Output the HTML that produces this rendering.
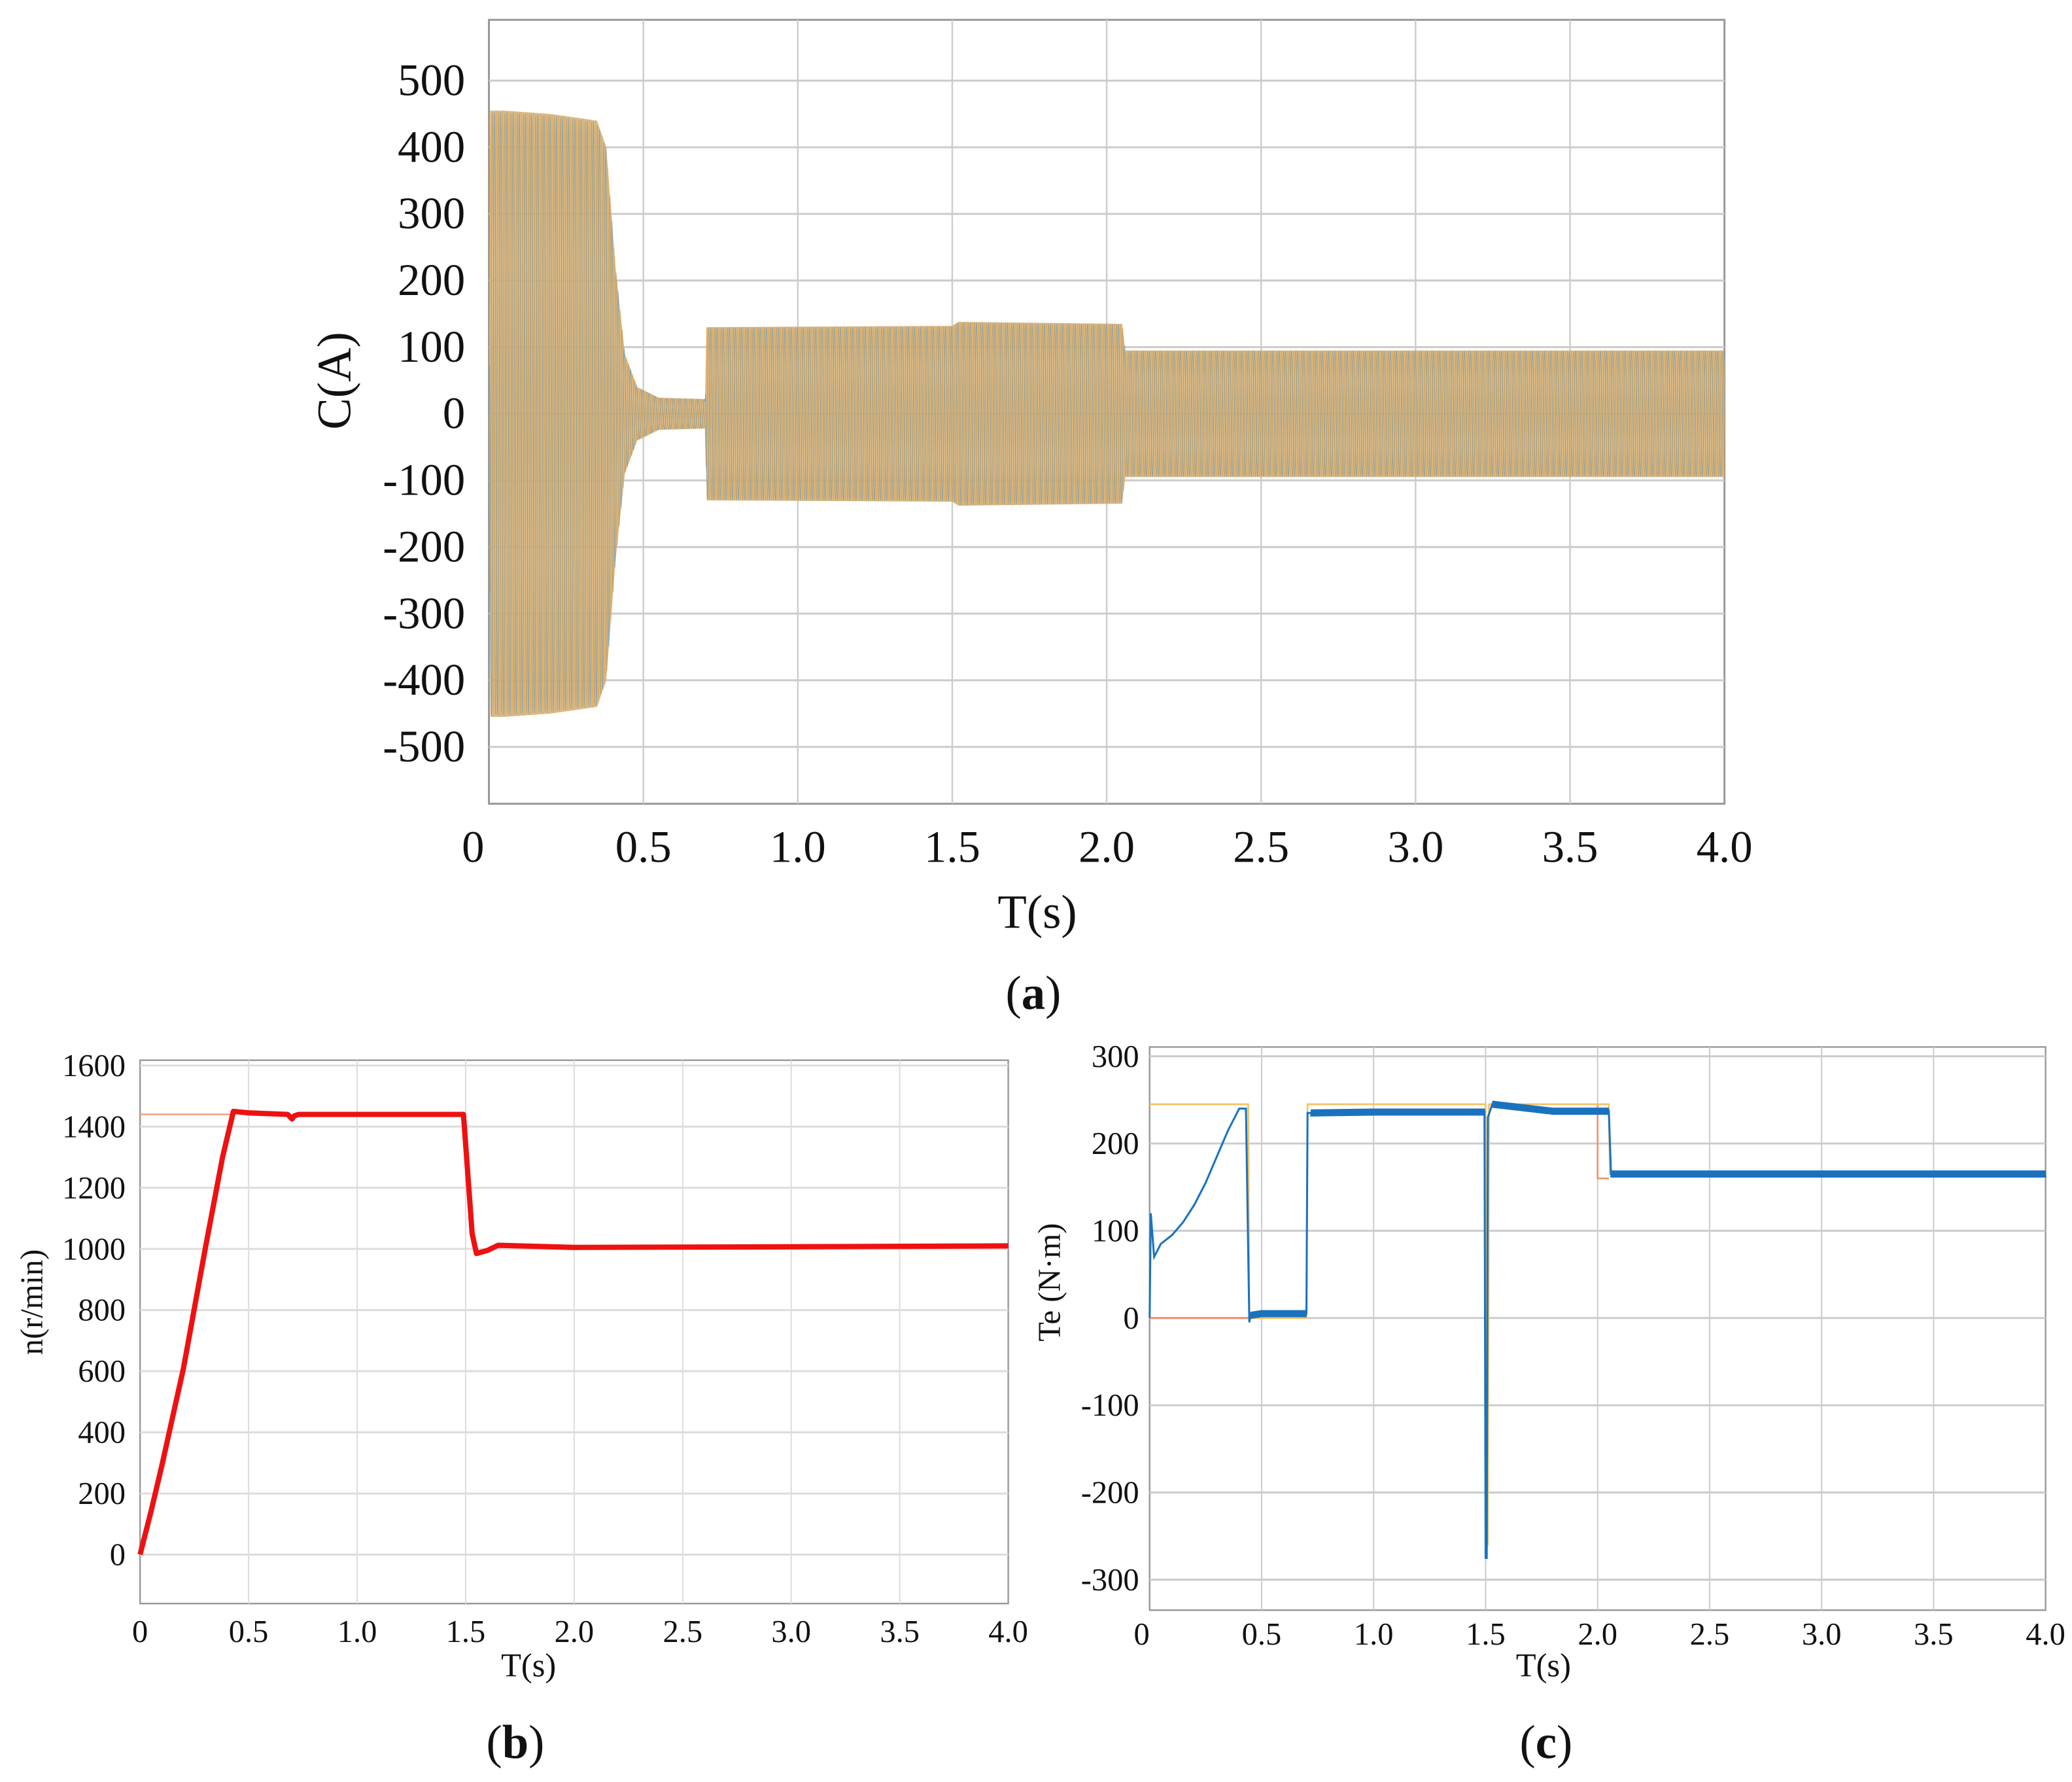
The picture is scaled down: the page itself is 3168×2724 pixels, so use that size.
<!DOCTYPE html>
<html><head><meta charset="utf-8"><style>
html,body{margin:0;padding:0;background:#fff;}
svg{display:block;}
text{font-family:"Liberation Serif",serif;fill:#111;}
</style></head><body>
<svg id="fig" xmlns="http://www.w3.org/2000/svg" width="3168" height="2724" viewBox="0 0 1568 1348" preserveAspectRatio="none">
<g id="ga"></g>
<g id="gb"></g>
<g id="gc"></g>
</svg>
<script>
// ---- Chart (a) current envelope data ----
const aTimes = [0, 0.005, 0.05, 0.2, 0.35, 0.38, 0.41, 0.44, 0.48, 0.55, 0.7, 0.705, 1.5, 1.52, 2.05, 2.06, 4.0];
const aAmps  = [0, 455, 455, 450, 440, 400, 220, 90, 40, 24, 22, 130, 132, 138, 135, 95, 95];
const aYTicks = [500, 400, 300, 200, 100, 0, -100, -200, -300, -400, -500];
const aXTicks = [0, 0.5, 1.0, 1.5, 2.0, 2.5, 3.0, 3.5, 4.0];
const aXLabels = ["0","0.5","1.0","1.5","2.0","2.5","3.0","3.5","4.0"];
// ---- Chart (b) speed ----
const bTimes = [0, 0.05, 0.1, 0.2, 0.3, 0.38, 0.43, 0.5, 0.68, 0.7, 0.71, 0.73, 1.0, 1.49, 1.53, 1.55, 1.6, 1.65, 2.0, 3.0, 4.0];
const bSpeed = [0, 140, 290, 610, 1000, 1300, 1450, 1445, 1440, 1425, 1435, 1440, 1440, 1440, 1050, 985, 995, 1012, 1005, 1007, 1010];
const bRefTimes = [0, 0.43];
const bRefSpeed = [1440, 1440];
const bYTicks = [1600, 1400, 1200, 1000, 800, 600, 400, 200, 0];
const bXTicks = [0, 0.5, 1.0, 1.5, 2.0, 2.5, 3.0, 3.5, 4.0];
const bXLabels = ["0","0.5","1.0","1.5","2.0","2.5","3.0","3.5","4.0"];
// ---- Chart (c) torque ----
const cRefTimes = [0, 0.44, 0.445, 0.7, 0.705, 1.5, 1.505, 1.51, 1.515, 2.05, 2.055, 4.0];
const cRefVals  = [245, 245, 0, 0, 245, 245, -260, -260, 245, 245, 165, 165];
const cLoad1Times = [0, 0.44];
const cLoad1Vals  = [0, 0];
const cLoad2Times = [2.0, 2.0, 2.05];
const cLoad2Vals  = [245, 160, 160];
const cTeTimes = [0, 0.005, 0.02, 0.05, 0.1, 0.15, 0.2, 0.25, 0.3, 0.35, 0.4, 0.43, 0.445, 0.45, 0.5, 0.7, 0.705, 0.72, 1.0, 1.495, 1.5, 1.505, 1.51, 1.53, 1.8, 2.05, 2.06, 2.1, 3.0, 4.0];
const cTeVals  = [0, 120, 70, 85, 95, 110, 130, 155, 185, 215, 240, 240, -5, 3, 5, 5, 235, 235, 236, 236, -275, -275, 230, 245, 237, 237, 165, 165, 165, 165];
const cYTicks = [300, 200, 100, 0, -100, -200, -300];
const cXTicks = [0, 0.5, 1.0, 1.5, 2.0, 2.5, 3.0, 3.5, 4.0];
const cXLabels = ["0","0.5","1.0","1.5","2.0","2.5","3.0","3.5","4.0"];

const NS = "http://www.w3.org/2000/svg";
function mk(parent, tag, attrs, txt){
  const e = document.createElementNS(NS, tag);
  for (const k in attrs) e.setAttribute(k, attrs[k]);
  if (txt !== undefined) e.textContent = txt;
  parent.appendChild(e); return e;
}
function lin(d0,d1,r0,r1){ return v => r0 + (v-d0)/(d1-d0)*(r1-r0); }
function interp(ts, vs, t){
  if (t <= ts[0]) return vs[0];
  for (let i=1;i<ts.length;i++){ if (t<=ts[i]){ const f=(t-ts[i-1])/((ts[i]-ts[i-1])||1); return vs[i-1]+f*(vs[i]-vs[i-1]); } }
  return vs[vs.length-1];
}
function pts(ts, vs, X, Y){ return ts.map((t,i)=>X(t).toFixed(2)+","+Y(vs[i]).toFixed(2)).join(" "); }

// ===== Chart A =====
(function(){
  const g = document.getElementById('ga');
  const L=370,R=1305,T=15,B=608;
  const X = lin(0,4,L,R), Y = lin(0,500,313,61);
  let r = mk(g,'rect',{x:L,y:T,width:R-L,height:B-T,fill:'#fff',stroke:'#999','stroke-width':1.5});
  
  
  aYTicks.forEach(v=>{
    const l = mk(g,'line',{x1:L,x2:R,y1:Y(v),y2:Y(v),stroke:'#ccc','stroke-width':1.5});
    
    
    const t = mk(g,'text',{x:352,y:Y(v)+11,'text-anchor':'end','font-size':34},String(v));
    
    
  });
  aXTicks.forEach((v,i)=>{
    if (i>0 && i<aXTicks.length-1){
      const l = mk(g,'line',{x1:X(v),x2:X(v),y1:T,y2:B,stroke:'#ccc','stroke-width':1.2});
      
      
    }
    const t = mk(g,'text',{x:X(v)+(i===0?-12:0),y:652,'text-anchor':'middle','font-size':34},aXLabels[i]);
    
    
  });
  const n=800; let up=[],dn=[];
  for (let i=0;i<=n;i++){ const t=4*i/n; const a=interp(aTimes,aAmps,t); up.push(X(t).toFixed(2)+","+Y(a).toFixed(2)); dn.unshift(X(t).toFixed(2)+","+Y(-a).toFixed(2)); }
  const env = mk(g,'polygon',{points:up.concat(dn).join(" "),fill:'#d8b47c',opacity:0.9});
  
  
  const colors=['#e8a23a','#5a9ccc','#b8955e'];
  [0,2.1,4.2].forEach((ph,k)=>{
    let p=[]; const N=4000;
    for (let i=0;i<=N;i++){ const t=4*i/N; const a=interp(aTimes,aAmps,t); p.push(X(t).toFixed(2)+","+Y(a*Math.sin(2*Math.PI*50*t+ph)).toFixed(2)); }
    const pl = mk(g,'polyline',{points:p.join(" "),fill:'none',stroke:colors[k],'stroke-width':0.5,opacity:0.7});
    
    
  });
  let t = mk(g,'text',{x:785,y:702,'text-anchor':'middle','font-size':36},'T(s)');
  
  
  t = mk(g,'text',{x:265,y:288,'text-anchor':'middle','font-size':36,transform:'rotate(-90 265 288)'},'C(A)');
  
  
  t = mk(g,'text',{x:782,y:763,'text-anchor':'middle','font-size':36},'');
  t.innerHTML='(<tspan font-weight="bold">a</tspan>)';
  
  
})();

// ===== Chart B =====
(function(){
  const g = document.getElementById('gb');
  const L=106,R=763,T=802,B=1213;
  const X = lin(0,4,L,R), Y = lin(0,1600,1176,806);
  let r = mk(g,'rect',{x:L,y:T,width:R-L,height:B-T,fill:'#fff',stroke:'#999','stroke-width':1.2});
  
  
  bYTicks.forEach(v=>{
    const l = mk(g,'line',{x1:L,x2:R,y1:Y(v),y2:Y(v),stroke:'#ddd','stroke-width':1.5});
    
    
    const t = mk(g,'text',{x:95,y:Y(v)+8,'text-anchor':'end','font-size':24},String(v));
    
    
  });
  bXTicks.forEach((v,i)=>{
    if (i>0 && i<bXTicks.length-1){
      const l = mk(g,'line',{x1:X(v),x2:X(v),y1:T,y2:B,stroke:'#ddd','stroke-width':1});
      
      
    }
    const t = mk(g,'text',{x:X(v),y:1242,'text-anchor':'middle','font-size':24},bXLabels[i]);
    
    
  });
  let pl = mk(g,'polyline',{points:pts(bRefTimes,bRefSpeed,X,Y),fill:'none',stroke:'#f0a080','stroke-width':1.2});
  
  
  pl = mk(g,'polyline',{points:pts(bTimes,bSpeed,X,Y),fill:'none',stroke:'#ee1111','stroke-width':4,'stroke-linejoin':'round'});
  
  
  let t = mk(g,'text',{x:400,y:1268,'text-anchor':'middle','font-size':25},'T(s)');
  
  
  t = mk(g,'text',{x:32,y:985,'text-anchor':'middle','font-size':24,transform:'rotate(-90 32 985)'},'n(r/min)');
  
  
  t = mk(g,'text',{x:390,y:1330,'text-anchor':'middle','font-size':36},'');
  t.innerHTML='(<tspan font-weight="bold">b</tspan>)';
  
  
})();

// ===== Chart C =====
(function(){
  const g = document.getElementById('gc');
  const L=870,R=1548,T=792,B=1218;
  const X = lin(0,4,L,R), Y = lin(0,300,997,799);
  let r = mk(g,'rect',{x:L,y:T,width:R-L,height:B-T,fill:'#fff',stroke:'#999','stroke-width':1.2});
  
  
  cYTicks.forEach(v=>{
    const l = mk(g,'line',{x1:L,x2:R,y1:Y(v),y2:Y(v),stroke:'#ccc','stroke-width':1.5});
    
    
    const t = mk(g,'text',{x:862,y:Y(v)+8,'text-anchor':'end','font-size':24},String(v));
    
    
  });
  cXTicks.forEach((v,i)=>{
    if (i>0 && i<cXTicks.length-1){
      const l = mk(g,'line',{x1:X(v),x2:X(v),y1:T,y2:B,stroke:'#ccc','stroke-width':1});
      
      
    }
    const t = mk(g,'text',{x:X(v)+(i===0?-6:0),y:1244,'text-anchor':'middle','font-size':24},cXLabels[i]);
    
    
  });
  let pl = mk(g,'polyline',{points:pts(cLoad1Times,cLoad1Vals,X,Y),fill:'none',stroke:'#f09070','stroke-width':1.5});
  
  
  pl = mk(g,'polyline',{points:pts(cLoad2Times,cLoad2Vals,X,Y),fill:'none',stroke:'#f09070','stroke-width':1.3});
  
  
  pl = mk(g,'polyline',{points:pts(cRefTimes,cRefVals,X,Y),fill:'none',stroke:'#f5c060','stroke-width':1.3});
  
  
  pl = mk(g,'polyline',{points:pts(cTeTimes,cTeVals,X,Y),fill:'none',stroke:'#1a72bf','stroke-width':1.5});
  
  
  [[0.45,0.7],[0.72,1.495],[1.53,2.05],[2.06,4.0]].forEach(s=>{
    let p=[]; const N=Math.round((s[1]-s[0])*300);
    for (let i=0;i<=N;i++){ const t=s[0]+(s[1]-s[0])*i/N; const v=interp(cTeTimes,cTeVals,t)+(i%2?4:-4); p.push(X(t).toFixed(2)+","+Y(v).toFixed(2)); }
    const b = mk(g,'polyline',{points:p.join(" "),fill:'none',stroke:'#1a72bf','stroke-width':1.2});
    
    
  });
  let t = mk(g,'text',{x:1168,y:1268,'text-anchor':'middle','font-size':25},'T(s)');
  
  
  t = mk(g,'text',{x:802,y:970,'text-anchor':'middle','font-size':24,transform:'rotate(-90 802 970)'},'Te (N·m)');
  
  
  t = mk(g,'text',{x:1170,y:1330,'text-anchor':'middle','font-size':36},'');
  t.innerHTML='(<tspan font-weight="bold">c</tspan>)';
  
  
})();
</script>
</body></html>
